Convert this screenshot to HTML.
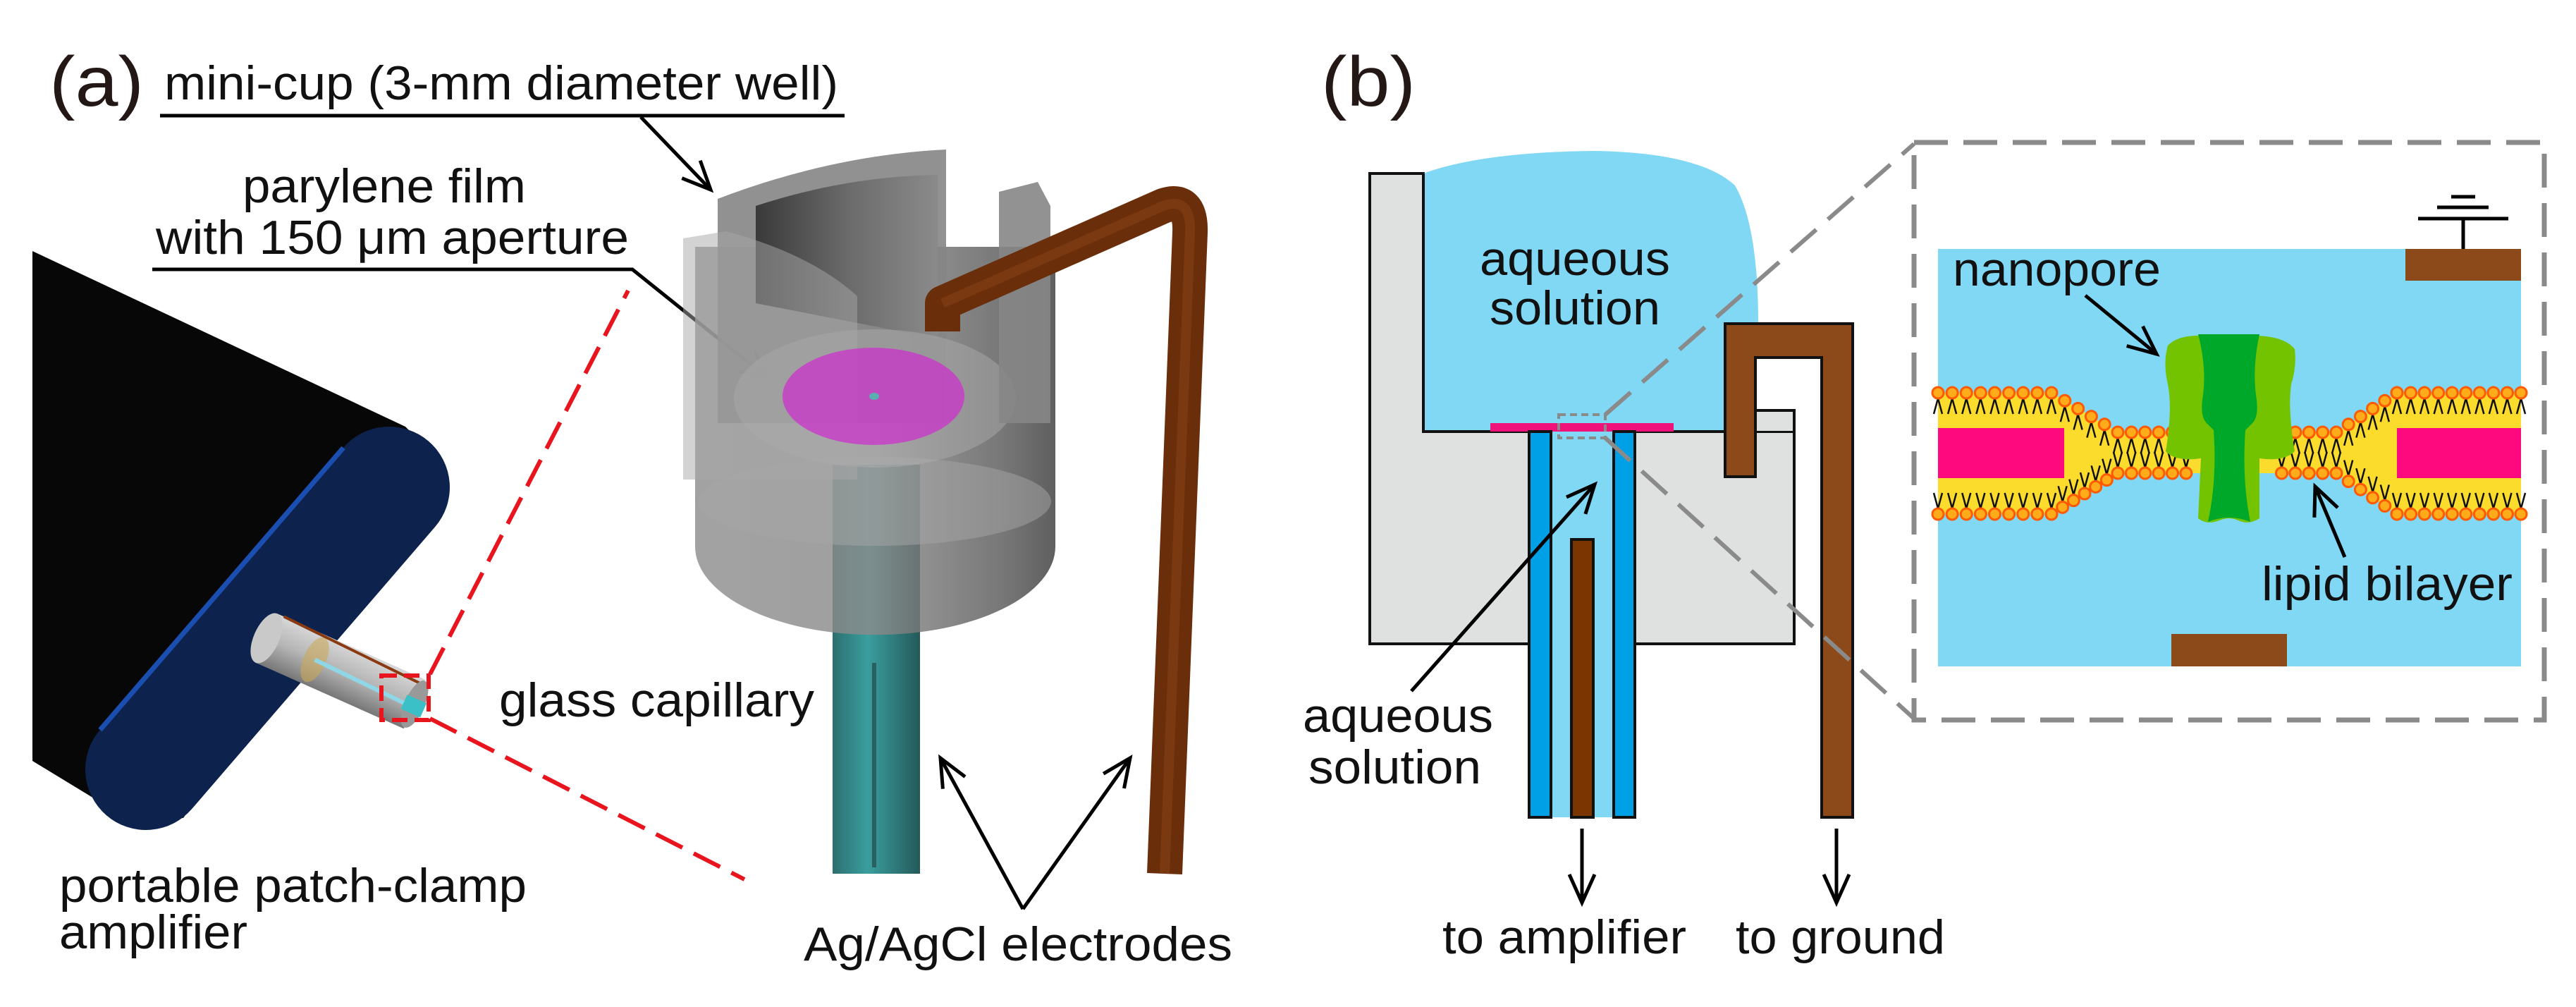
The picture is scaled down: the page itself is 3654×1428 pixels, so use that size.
<!DOCTYPE html>
<html><head><meta charset="utf-8"><style>
html,body{margin:0;padding:0;background:#fff;}
svg{display:block;}
text{font-family:"Liberation Sans",Arial,sans-serif;fill:#111;}
</style></head><body>
<svg id="s" width="3654" height="1428" viewBox="0 0 3654 1428" xmlns="http://www.w3.org/2000/svg">
<defs>
<marker id="ah" markerWidth="60" markerHeight="60" refX="44" refY="22" orient="auto" markerUnits="userSpaceOnUse">
<path d="M4,4 L44,22 L4,40" fill="none" stroke="#000" stroke-width="5"/>
</marker>
<linearGradient id="cupg" x1="0" x2="1" y1="0" y2="0">
<stop offset="0" stop-color="#8e8e8e"/><stop offset="0.5" stop-color="#8a8a8a"/><stop offset="0.85" stop-color="#5a5a5a"/><stop offset="1" stop-color="#3c3c3c"/>
</linearGradient>
<linearGradient id="inner" x1="0" x2="1" y1="0" y2="0">
<stop offset="0" stop-color="#3a3a3a"/><stop offset="0.5" stop-color="#6a6a6a"/><stop offset="1" stop-color="#8a8a8a"/>
</linearGradient>
<linearGradient id="teal" x1="0" x2="1" y1="0" y2="0">
<stop offset="0" stop-color="#2d6f70"/><stop offset="0.4" stop-color="#3a9e9e"/><stop offset="1" stop-color="#25595a"/>
</linearGradient>
<linearGradient id="cyl" x1="0" x2="0" y1="0" y2="1">
<stop offset="0" stop-color="#d8d8d8"/><stop offset="0.5" stop-color="#b5b5b5"/><stop offset="1" stop-color="#777"/>
</linearGradient>
</defs>

<!-- ===== Panel (a) ===== -->
<text x="70" y="150" font-size="100" textLength="134" lengthAdjust="spacingAndGlyphs" style="fill:#231815">(a)</text>
<text x="233" y="141" font-size="68" textLength="956" lengthAdjust="spacingAndGlyphs">mini-cup (3-mm diameter well)</text>
<line x1="227" y1="164" x2="1198" y2="164" stroke="#000" stroke-width="5"/>
<line x1="909" y1="166" x2="1008" y2="269" stroke="#000" stroke-width="5" marker-end="url(#ah)"/>
<text x="344" y="287" font-size="68" textLength="402" lengthAdjust="spacingAndGlyphs">parylene film</text>
<text x="221" y="360" font-size="68" textLength="671" lengthAdjust="spacingAndGlyphs">with 150 μm aperture</text>
<polyline points="216,382 897,382 1090,537" fill="none" stroke="#000" stroke-width="5" marker-end="url(#ah)"/>

<!-- amplifier -->
<path d="M46,356 L575,605 L620,650 L260,1160 L161,1149 L46,1079 Z" fill="#070707"/>
<line x1="552" y1="691" x2="207" y2="1091" stroke="#0d234e" stroke-width="172" stroke-linecap="round"/>
<line x1="487" y1="635" x2="142" y2="1035" stroke="#1a4eb0" stroke-width="7"/>
<!-- small cylinder -->
<g transform="translate(378,905) rotate(24)">
<rect x="0" y="-38" width="230" height="76" fill="url(#cyl)"/>
<ellipse cx="0" cy="0" rx="18" ry="38" fill="#c9c9c9"/>
<ellipse cx="75" cy="0" rx="16" ry="34" fill="#c9a85a" opacity="0.6"/>
<line x1="75" y1="0" x2="230" y2="5" stroke="#8fd6e6" stroke-width="6"/>
<line x1="10" y1="-38" x2="230" y2="-30" stroke="#8a3a10" stroke-width="4"/>
<ellipse cx="230" cy="0" rx="14" ry="36" fill="#999"/>
<rect x="215" y="-8" width="30" height="22" fill="#3cc0c8"/>
</g>
<rect x="541" y="958" width="67" height="63" fill="none" stroke="#e8141e" stroke-width="6" stroke-dasharray="22,10"/>
<line x1="610" y1="956" x2="891" y2="412" stroke="#e8141e" stroke-width="6" stroke-dasharray="42,18"/>
<line x1="610" y1="1019" x2="1056" y2="1247" stroke="#e8141e" stroke-width="6" stroke-dasharray="42,18"/>

<text x="708" y="1016" font-size="68" textLength="447" lengthAdjust="spacingAndGlyphs">glass capillary</text>
<text x="84" y="1279" font-size="68" textLength="663" lengthAdjust="spacingAndGlyphs">portable patch-clamp</text>
<text x="84" y="1345" font-size="68" textLength="267" lengthAdjust="spacingAndGlyphs">amplifier</text>

<!-- cup -->
<rect x="1181" y="659" width="124" height="580" fill="url(#teal)"/>
<line x1="1240" y1="940" x2="1240" y2="1230" stroke="#2a6060" stroke-width="6"/>
<path d="M986,350 L986,775 A255,125 0 0 0 1497,775 L1497,350 Z" fill="url(#cupg)" opacity="0.82"/>
<ellipse cx="1241" cy="711" rx="250" ry="63" fill="#a6a6a6" opacity="0.5"/>
<path d="M1018,282 Q1180,220 1342,212 L1342,600 L1018,600 Z" fill="#858585" opacity="0.9"/>
<path d="M1072,292 Q1200,250 1330,248 L1330,480 Q1200,455 1072,430 Z" fill="url(#inner)"/>
<ellipse cx="1241" cy="565" rx="200" ry="98" fill="#b0b0b0" opacity="0.45"/>
<path d="M969,338 L1030,328 Q1150,360 1216,420 L1216,680 L969,680 Z" fill="#a8a8a8" opacity="0.5"/>
<path d="M1417,272 L1472,258 L1490,292 L1490,600 L1417,600 Z" fill="#868686" opacity="0.9"/>
<ellipse cx="1239" cy="562" rx="129" ry="69" fill="#cc33cc" opacity="0.75"/>
<ellipse cx="1240" cy="562" rx="7" ry="5" fill="#5ab0b0"/>
<!-- wire -->
<path d="M1337,470 L1337,430 L1650,292 Q1690,278 1688,330 L1652,1239" fill="none" stroke="#6b2e0a" stroke-width="50" stroke-linejoin="round"/>
<path d="M1337,430 L1650,292 Q1690,278 1688,330 L1652,1239" fill="none" stroke="#8a4415" stroke-width="14" opacity="0.5"/>

<line x1="1451" y1="1289" x2="1334" y2="1075" stroke="#000" stroke-width="5" marker-end="url(#ah)"/>
<line x1="1451" y1="1289" x2="1603" y2="1075" stroke="#000" stroke-width="5" marker-end="url(#ah)"/>
<text x="1140" y="1362" font-size="68" textLength="608" lengthAdjust="spacingAndGlyphs">Ag/AgCl electrodes</text>

<!-- ===== Panel (b) ===== -->
<text x="1874" y="150" font-size="100" textLength="134" lengthAdjust="spacingAndGlyphs" style="fill:#231815">(b)</text>
<path d="M1943,246 L2019,246 L2019,612 L2545,612 L2545,913 L1943,913 Z" fill="#dfe0e0" stroke="#111" stroke-width="4"/>
<path d="M2019,612 L2019,246 Q2100,216 2260,214 Q2410,216 2461,263 Q2494,320 2494,459 L2447,459 L2447,612 Z" fill="#80d8f4"/>
<line x1="2019" y1="246" x2="2019" y2="612" stroke="#111" stroke-width="4"/>
<line x1="2019" y1="612" x2="2447" y2="612" stroke="#111" stroke-width="4"/>
<path d="M2447,582 L2545,582 L2545,612" fill="none" stroke="#111" stroke-width="4"/>
<rect x="2489" y="584" width="54" height="27" fill="#dfe0e0"/>
<rect x="2114" y="600" width="260" height="12" fill="#f0127a"/>
<rect x="2200" y="612" width="89" height="547" fill="#80d8f4"/>
<rect x="2169" y="612" width="31" height="547" fill="#00a0e6" stroke="#111" stroke-width="4"/>
<rect x="2289" y="612" width="30" height="547" fill="#00a0e6" stroke="#111" stroke-width="4"/>
<rect x="2229" y="765" width="31" height="394" fill="#7a3500" stroke="#111" stroke-width="4"/>
<path d="M2447,676 L2447,459 L2628,459 L2628,1159 L2584,1159 L2584,507 L2490,507 L2490,676 Z" fill="#8c4a1a" stroke="#111" stroke-width="4"/>
<rect x="2211" y="588" width="66" height="33" fill="none" stroke="#8a8a8a" stroke-width="4" stroke-dasharray="10,6"/>
<line x1="2277" y1="588" x2="2715" y2="204" stroke="#8a8a8a" stroke-width="6" stroke-dasharray="48,22"/>
<line x1="2277" y1="621" x2="2715" y2="1019" stroke="#8a8a8a" stroke-width="6" stroke-dasharray="48,22"/>

<text x="2234" y="390" font-size="68" text-anchor="middle" textLength="270" lengthAdjust="spacingAndGlyphs">aqueous</text>
<text x="2234" y="460" font-size="68" text-anchor="middle" textLength="242" lengthAdjust="spacingAndGlyphs">solution</text>
<line x1="2002" y1="980" x2="2262" y2="687" stroke="#000" stroke-width="5" marker-end="url(#ah)"/>
<text x="1848" y="1038" font-size="68" textLength="270" lengthAdjust="spacingAndGlyphs">aqueous</text>
<text x="1856" y="1111" font-size="68" textLength="245" lengthAdjust="spacingAndGlyphs">solution</text>

<line x1="2244" y1="1175" x2="2244" y2="1280" stroke="#000" stroke-width="5" marker-end="url(#ah)"/>
<line x1="2605" y1="1175" x2="2605" y2="1280" stroke="#000" stroke-width="5" marker-end="url(#ah)"/>
<text x="2046" y="1352" font-size="68" textLength="346" lengthAdjust="spacingAndGlyphs">to amplifier</text>
<text x="2462" y="1352" font-size="68" textLength="297" lengthAdjust="spacingAndGlyphs">to ground</text>

<!-- zoom box -->
<rect x="2715" y="202" width="894" height="819" fill="none" stroke="#8a8a8a" stroke-width="7" stroke-dasharray="48,22"/>
<rect x="2749" y="353" width="827" height="592" fill="#80d8f4"/>
<rect x="3412" y="353" width="164" height="45" fill="#8c4a1a"/>
<rect x="3080" y="899" width="164" height="46" fill="#8c4a1a"/>
<line x1="3494" y1="310" x2="3494" y2="353" stroke="#000" stroke-width="5"/>
<line x1="3430" y1="310" x2="3558" y2="310" stroke="#000" stroke-width="5"/>
<line x1="3457" y1="294" x2="3530" y2="294" stroke="#000" stroke-width="5"/>
<line x1="3477" y1="279" x2="3511" y2="279" stroke="#000" stroke-width="5"/>
<g id="mem"></g>
<path d="M3075,490 Q3090,474 3130,476 L3195,476 Q3240,476 3255,495 Q3258,520 3250,545 Q3245,580 3255,640 Q3240,655 3205,650 L3205,735 Q3190,745 3175,738 Q3162,732 3148,738 Q3130,745 3118,735 L3122,650 Q3085,655 3072,640 Q3082,580 3075,545 Q3068,515 3075,490 Z" fill="#74c300"/>
<path d="M3118,474 L3205,474 Q3195,520 3200,560 Q3205,590 3195,600 L3185,610 Q3180,680 3192,740 Q3162,728 3132,740 Q3145,680 3140,610 L3130,600 Q3120,590 3125,560 Q3130,520 3118,474 Z" fill="#00a82a"/>
<text x="2770" y="405" font-size="68" textLength="295" lengthAdjust="spacingAndGlyphs">nanopore</text>
<line x1="2958" y1="419" x2="3059" y2="502" stroke="#000" stroke-width="5" marker-end="url(#ah)"/>
<text x="3208" y="851" font-size="68" textLength="356" lengthAdjust="spacingAndGlyphs">lipid bilayer</text>
<line x1="3326" y1="790" x2="3284" y2="690" stroke="#000" stroke-width="5" marker-end="url(#ah)"/>
</svg>
<script>
(function(){
var NS="http://www.w3.org/2000/svg",g=document.getElementById("mem");
function el(n,a){var e=document.createElementNS(NS,n);for(var k in a)e.setAttribute(k,a[k]);g.appendChild(e);return e;}
var top=[[2749,557],[2910,557],[3004,613],[3314,613],[3400,557],[3576,557]];
var bot=[[2749,729],[2910,729],[3004,671],[3314,671],[3400,729],[3576,729]];
var pts=top.map(function(p){return p.join(",")}).concat(bot.slice().reverse().map(function(p){return p.join(",")}));
el("polygon",{points:pts.join(" "),fill:"#fbdc2c"});
function samp(line,step){var out=[];for(var i=0;i<line.length-1;i++){var a=line[i],b=line[i+1],dx=b[0]-a[0],dy=b[1]-a[1],L=Math.sqrt(dx*dx+dy*dy),n=Math.round(L/step);for(var j=0;j<n;j++){out.push([a[0]+dx*j/n,a[1]+dy*j/n]);}}out.push(line[line.length-1]);return out;}
var T=samp(top,20),B=samp(bot,20);
function tails(arr,dir){arr.forEach(function(p){if(p[0]>3105&&p[0]<3220)return;var x=p[0],y=p[1];el("polyline",{points:(x-6)+","+(y+dir*30)+" "+x+","+(y+dir*8)+" "+(x+6)+","+(y+dir*30),fill:"none",stroke:"#111","stroke-width":"2.5"});});}
tails(T,1);tails(B,-1);
el("rect",{x:2749,y:607,width:179,height:71,fill:"#ff0a7e"});
el("rect",{x:3400,y:607,width:176,height:71,fill:"#ff0a7e"});
function heads(arr){arr.forEach(function(p){if(p[0]>3105&&p[0]<3220)return;el("circle",{cx:p[0],cy:p[1],r:8,fill:"#ffab1a",stroke:"#ff5a00","stroke-width":"3"});});}
heads(T);heads(B);
})();
</script>
</body></html>
